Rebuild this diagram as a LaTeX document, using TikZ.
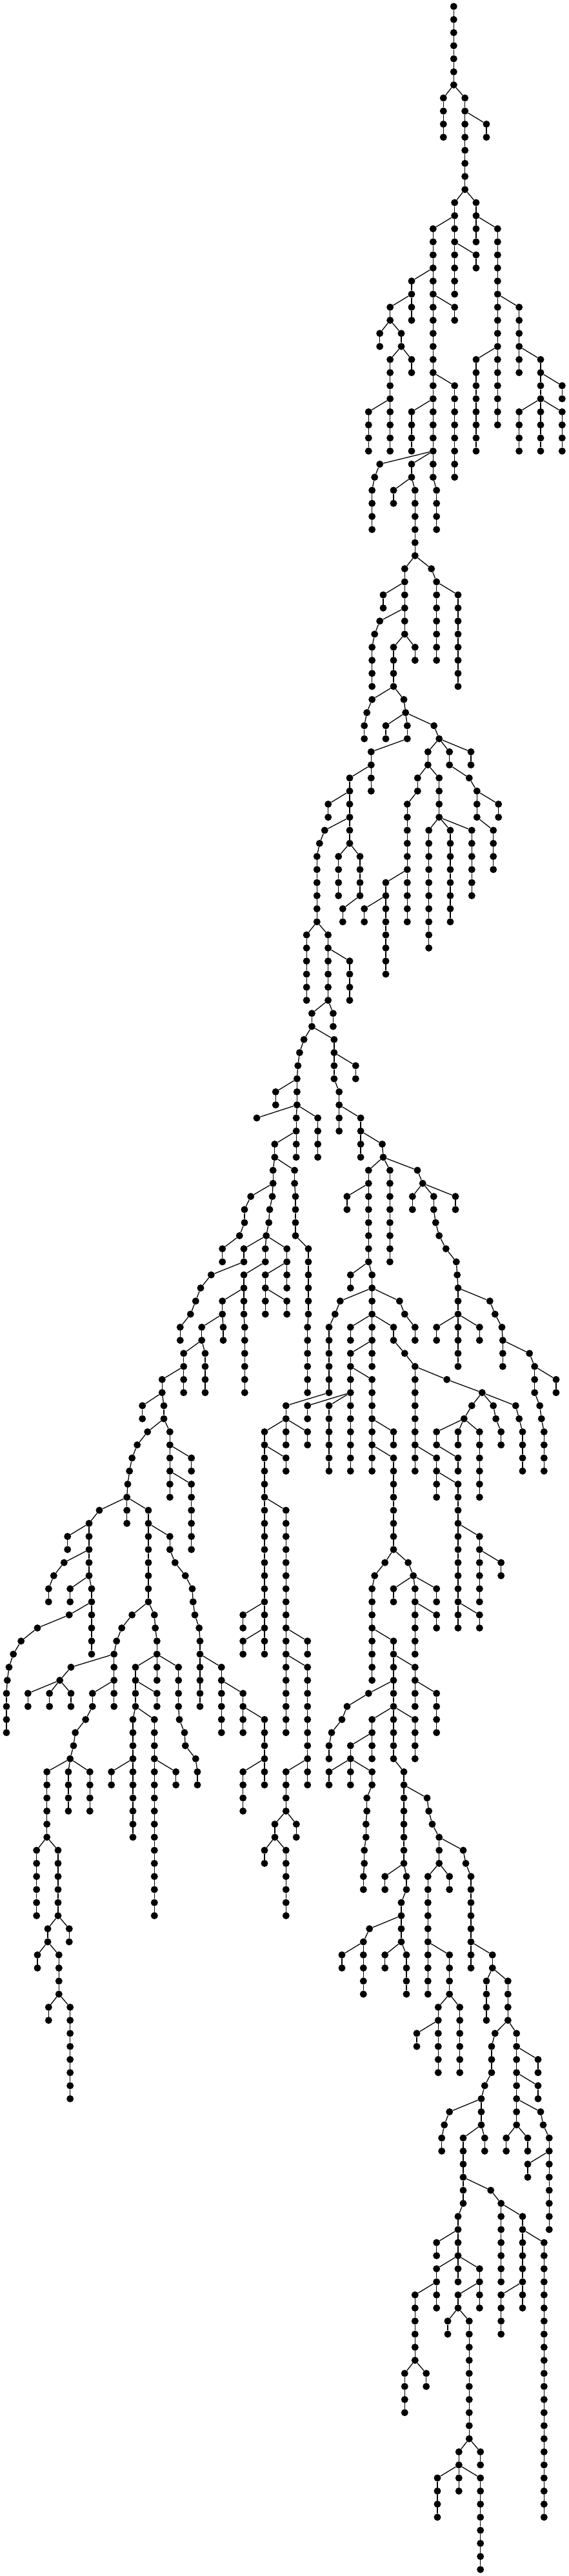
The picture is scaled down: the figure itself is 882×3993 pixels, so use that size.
\documentclass[tikz,border=0pt]{standalone}
\tikzset{dot/.style={circle,fill=black,draw=none,inner sep=0pt,minimum size=11pt},
 lnk/.style={draw=black,line width=1.3pt}}
\newcommand\ch[5]{%
 \foreach \l [remember=\l as \pv (initially #4)] in {#4,...,#5}{%
  \node[dot] (#1-\l) at (#3,{10+20.27*\l}) {};
  \ifnum\l>#4\relax \draw[lnk] (#1-\pv)--(#1-\l);\fi
 }%
 \if\relax\detokenize{#2}\relax\else \draw[lnk] (#2)--(#1-#4);\fi
}
\begin{document}
\begin{tikzpicture}[x=1pt,y=-1pt]
\useasboundingbox (0,0) rectangle (882,3993);
\ch{c1}{}{703.3}{0}{6}
\ch{c2}{c1-6}{687.3}{7}{10}
\ch{c3}{c1-6}{720.7}{7}{14}
\ch{c4}{c3-8}{754}{9}{10}
\ch{c5}{c3-14}{704.7}{15}{22}
\ch{c6}{c3-14}{738}{15}{18}
\ch{c7}{c6-16}{771.3}{17}{32}
\ch{c8}{c5-16}{671.3}{17}{36}
\ch{c9}{c5-18}{738}{19}{20}
\ch{c10}{c7-22}{804.7}{23}{28}
\ch{c11}{c7-26}{738}{27}{34}
\ch{c12}{c10-26}{838}{27}{34}
\ch{c13}{c12-28}{871.3}{29}{30}
\ch{c14}{c12-30}{804.7}{31}{34}
\ch{c15}{c12-30}{871.3}{31}{34}
\ch{c16}{c8-20}{638}{21}{24}
\ch{c17}{c8-22}{704.7}{23}{24}
\ch{c18}{c8-28}{704.7}{29}{36}
\ch{c19}{c8-30}{638}{31}{34}
\ch{c20}{c16-22}{604.7}{23}{24}
\ch{c21}{c20-24}{588.7}{25}{26}
\ch{c22}{c20-24}{622}{25}{26}
\ch{c23}{c22-26}{604.7}{27}{30}
\ch{c24}{c22-26}{638}{27}{28}
\ch{c25}{c23-30}{571.3}{31}{34}
\ch{c26}{c23-30}{604.7}{31}{34}
\ch{c27}{c8-34}{588.7}{35}{35}
\ch{c28}{c27-35}{580.7}{36}{36}
\ch{c29}{c28-36}{576.7}{37}{40}
\ch{c30}{c8-34}{638}{35}{36}
\ch{c31}{c30-36}{610}{37}{38}
\ch{c32}{c30-36}{643.3}{37}{42}
\ch{c33}{c8-36}{676.7}{37}{40}
\ch{c34}{c32-42}{627.3}{43}{48}
\ch{c35}{c32-42}{668.7}{43}{43}
\ch{c36}{c35-43}{676.7}{44}{50}
\ch{c37}{c36-44}{710}{45}{52}
\ch{c38}{c34-44}{594}{45}{46}
\ch{c39}{c34-46}{588.7}{47}{47}
\ch{c40}{c39-47}{580.7}{48}{48}
\ch{c41}{c40-48}{576.7}{49}{52}
\ch{c42}{c34-48}{610}{49}{52}
\ch{c43}{c34-48}{643.3}{49}{50}
\ch{c44}{c42-52}{576.7}{53}{53}
\ch{c45}{c44-53}{568.7}{54}{54}
\ch{c46}{c45-54}{564.7}{55}{56}
\ch{c47}{c42-52}{626}{53}{53}
\ch{c48}{c47-53}{628.7}{54}{54}
\ch{c49}{c48-54}{598}{55}{56}
\ch{c50}{c48-54}{631.3}{55}{56}
\ch{c51}{c48-54}{672.7}{55}{55}
\ch{c52}{c51-55}{680.7}{56}{56}
\ch{c53}{c50-56}{575.3}{57}{60}
\ch{c54}{c53-58}{542}{59}{64}
\ch{c55}{c54-60}{508.7}{61}{62}
\ch{c56}{c54-62}{503.3}{63}{63}
\ch{c57}{c56-63}{495.3}{64}{64}
\ch{c58}{c57-64}{491.3}{65}{70}
\ch{c59}{c54-64}{524.7}{65}{68}
\ch{c60}{c54-64}{558}{65}{68}
\ch{c61}{c60-68}{531.3}{69}{70}
\ch{c62}{c52-56}{663.3}{57}{58}
\ch{c63}{c52-56}{696.7}{57}{58}
\ch{c64}{c52-56}{730}{57}{58}
\ch{c65}{c63-58}{727.3}{59}{59}
\ch{c66}{c65-59}{739.3}{60}{62}
\ch{c67}{c66-60}{772.7}{61}{62}
\ch{c68}{c66-62}{764.7}{63}{66}
\ch{c69}{c62-58}{647.3}{59}{60}
\ch{c70}{c69-60}{631.3}{61}{70}
\ch{c71}{c62-58}{680.7}{59}{62}
\ch{c72}{c71-62}{664.7}{63}{72}
\ch{c73}{c71-62}{698}{63}{70}
\ch{c74}{c71-62}{731.3}{63}{68}
\ch{c75}{c70-66}{598}{67}{74}
\ch{c76}{c75-68}{564.7}{69}{70}
\ch{c77}{c58-70}{475.2}{71}{76}
\ch{c78}{c58-70}{508.6}{71}{76}
\ch{c79}{c78-72}{542}{73}{76}
\ch{c80}{c78-76}{483.4}{77}{78}
\ch{c81}{c78-76}{516.4}{77}{78}
\ch{c82}{c80-78}{471.1}{79}{79}
\ch{c83}{c82-79}{464.4}{80}{80}
\ch{c84}{c83-80}{461.8}{81}{81}
\ch{c85}{c84-81}{460.4}{82}{84}
\ch{c86}{c85-82}{427.3}{83}{84}
\ch{c87}{c85-84}{398}{85}{85}
\ch{c88}{c85-84}{459.2}{85}{88}
\ch{c89}{c85-84}{492.6}{85}{88}
\ch{c90}{c88-86}{425.8}{87}{88}
\ch{c91}{c90-88}{423.2}{89}{90}
\ch{c92}{c90-88}{456.6}{89}{90}
\ch{c93}{c92-90}{458}{91}{94}
\ch{c94}{c91-90}{388.7}{91}{91}
\ch{c95}{c94-91}{379}{92}{93}
\ch{c96}{c95-93}{371.3}{94}{94}
\ch{c97}{c96-94}{344.7}{95}{96}
\ch{c98}{c91-90}{422.1}{91}{91}
\ch{c99}{c98-91}{418}{92}{92}
\ch{c100}{c99-92}{416.7}{93}{93}
\ch{c101}{c100-93}{412.7}{94}{94}
\ch{c102}{c101-94}{378}{95}{96}
\ch{c103}{c101-94}{411.3}{95}{96}
\ch{c104}{c101-94}{444.7}{95}{98}
\ch{c105}{c93-94}{478}{95}{100}
\ch{c106}{c105-100}{476.7}{101}{106}
\ch{c107}{c102-96}{327.3}{97}{97}
\ch{c108}{c107-97}{311}{98}{98}
\ch{c109}{c108-98}{303.3}{99}{99}
\ch{c110}{c109-99}{295.3}{100}{100}
\ch{c111}{c110-100}{279.3}{101}{102}
\ch{c112}{c103-96}{378}{97}{100}
\ch{c113}{c112-100}{379.3}{101}{106}
\ch{c114}{c112-98}{344.7}{99}{100}
\ch{c115}{c114-100}{312.7}{101}{102}
\ch{c116}{c114-100}{346}{101}{102}
\ch{c117}{c115-102}{284.7}{103}{106}
\ch{c118}{c115-102}{318}{103}{106}
\ch{c119}{c117-104}{251.3}{105}{106}
\ch{c120}{c119-106}{220.7}{107}{108}
\ch{c121}{c119-106}{254}{107}{108}
\ch{c122}{c121-108}{228.7}{109}{109}
\ch{c123}{c121-108}{263.3}{109}{114}
\ch{c124}{c122-109}{212.7}{110}{110}
\ch{c125}{c124-110}{204.7}{111}{111}
\ch{c126}{c125-111}{200.7}{112}{112}
\ch{c127}{c126-112}{198}{113}{113}
\ch{c128}{c127-113}{196.7}{114}{116}
\ch{c129}{c128-114}{154}{115}{115}
\ch{c130}{c128-114}{230}{115}{122}
\ch{c131}{c129-115}{138}{116}{120}
\ch{c132}{c131-116}{104.7}{117}{118}
\ch{c133}{c131-118}{99.3}{119}{119}
\ch{c134}{c133-119}{83.3}{120}{120}
\ch{c135}{c134-120}{75.3}{121}{122}
\ch{c136}{c131-120}{108.7}{121}{122}
\ch{c137}{c131-120}{142}{121}{126}
\ch{c138}{c137-122}{107.3}{123}{123}
\ch{c139}{c138-123}{58}{124}{124}
\ch{c140}{c139-124}{32.7}{125}{125}
\ch{c141}{c140-125}{20.7}{126}{126}
\ch{c142}{c141-126}{14}{127}{127}
\ch{c143}{c142-127}{11.3}{128}{128}
\ch{c144}{c143-128}{10}{129}{132}
\ch{c145}{c123-110}{296.7}{111}{112}
\ch{c146}{c123-112}{296.7}{113}{118}
\ch{c147}{c130-116}{263.3}{117}{118}
\ch{c148}{c147-118}{271.3}{119}{119}
\ch{c149}{c148-119}{287.3}{120}{120}
\ch{c150}{c149-120}{298}{121}{121}
\ch{c151}{c150-121}{299.3}{122}{122}
\ch{c152}{c151-122}{302}{123}{123}
\ch{c153}{c152-123}{308.7}{124}{124}
\ch{c154}{c153-124}{310}{125}{130}
\ch{c155}{c154-126}{343.3}{127}{132}
\ch{c156}{c155-128}{376.7}{129}{132}
\ch{c157}{c156-130}{410}{131}{136}
\ch{c158}{c157-134}{376.7}{135}{138}
\ch{c159}{c130-122}{204.7}{123}{123}
\ch{c160}{c159-123}{188.7}{124}{124}
\ch{c161}{c160-124}{180.7}{125}{125}
\ch{c162}{c161-125}{176.7}{126}{130}
\ch{c163}{c130-122}{239.3}{123}{123}
\ch{c164}{c163-123}{240.7}{124}{124}
\ch{c165}{c164-124}{243.3}{125}{126}
\ch{c166}{c162-126}{110}{127}{127}
\ch{c167}{c166-127}{92.7}{128}{128}
\ch{c168}{c167-128}{43.3}{129}{130}
\ch{c169}{c167-128}{76.7}{129}{130}
\ch{c170}{c167-128}{110}{129}{130}
\ch{c171}{c162-128}{143.3}{129}{130}
\ch{c172}{c171-130}{132.7}{131}{131}
\ch{c173}{c172-131}{116.7}{132}{132}
\ch{c174}{c173-132}{114}{133}{133}
\ch{c175}{c174-133}{108.7}{134}{134}
\ch{c176}{c175-134}{72.7}{135}{140}
\ch{c177}{c175-134}{106}{135}{138}
\ch{c178}{c175-134}{139.3}{135}{138}
\ch{c179}{c176-140}{56.7}{141}{146}
\ch{c180}{c176-140}{90}{141}{146}
\ch{c181}{c180-146}{74}{147}{148}
\ch{c182}{c180-146}{107.3}{147}{148}
\ch{c183}{c181-148}{58}{149}{150}
\ch{c184}{c181-148}{91.3}{149}{152}
\ch{c185}{c184-152}{75.3}{153}{154}
\ch{c186}{c184-152}{108.7}{153}{160}
\ch{c187}{c165-126}{210}{127}{130}
\ch{c188}{c165-126}{243.3}{127}{128}
\ch{c189}{c165-126}{276.7}{127}{130}
\ch{c190}{c187-128}{243.3}{129}{130}
\ch{c191}{c187-130}{206}{131}{140}
\ch{c192}{c187-130}{239.3}{131}{146}
\ch{c193}{c191-134}{172.7}{135}{136}
\ch{c194}{c192-134}{272.7}{135}{136}
\ch{c195}{c189-130}{278}{131}{131}
\ch{c196}{c195-131}{286}{132}{132}
\ch{c197}{c196-132}{287.3}{133}{133}
\ch{c198}{c197-133}{303.3}{134}{134}
\ch{c199}{c198-134}{306}{135}{136}
\ch{c200}{c80-78}{517.9}{79}{82}
\ch{c201}{c200-80}{551.3}{81}{82}
\ch{c202}{c200-82}{525.7}{83}{86}
\ch{c203}{c202-84}{559.1}{85}{88}
\ch{c204}{c203-86}{592.5}{87}{87}
\ch{c205}{c204-87}{594}{88}{88}
\ch{c206}{c205-88}{571.3}{89}{96}
\ch{c207}{c205-88}{604.4}{89}{96}
\ch{c208}{c205-88}{647}{89}{89}
\ch{c209}{c208-89}{655.2}{90}{90}
\ch{c210}{c209-90}{639.3}{91}{92}
\ch{c211}{c209-90}{672.3}{91}{92}
\ch{c212}{c209-90}{706}{91}{92}
\ch{c213}{c206-90}{537.9}{91}{92}
\ch{c214}{c211-92}{675.3}{93}{93}
\ch{c215}{c214-93}{680.7}{94}{94}
\ch{c216}{c215-94}{691.3}{95}{95}
\ch{c217}{c216-95}{707.3}{96}{96}
\ch{c218}{c217-96}{708.7}{97}{97}
\ch{c219}{c218-97}{710}{98}{104}
\ch{c220}{c219-98}{759.3}{99}{99}
\ch{c221}{c220-99}{767.3}{100}{100}
\ch{c222}{c221-100}{778}{101}{101}
\ch{c223}{c222-101}{779.3}{102}{104}
\ch{c224}{c223-102}{820.7}{103}{103}
\ch{c225}{c224-103}{828.7}{104}{106}
\ch{c226}{c225-104}{862}{105}{106}
\ch{c227}{c225-106}{836.7}{107}{107}
\ch{c228}{c227-107}{839.3}{108}{108}
\ch{c229}{c228-108}{843.3}{109}{112}
\ch{c230}{c219-100}{676.7}{101}{102}
\ch{c231}{c219-100}{743.3}{101}{102}
\ch{c232}{c206-96}{543.3}{97}{98}
\ch{c233}{c206-96}{576.7}{97}{104}
\ch{c234}{c233-98}{527.3}{99}{99}
\ch{c235}{c234-99}{519.3}{100}{100}
\ch{c236}{c235-100}{510}{101}{106}
\ch{c237}{c233-98}{619.3}{99}{99}
\ch{c238}{c237-99}{627.3}{100}{100}
\ch{c239}{c238-100}{643.3}{101}{102}
\ch{c240}{c233-100}{543.3}{101}{102}
\ch{c241}{c233-100}{610}{101}{102}
\ch{c242}{c241-102}{627.3}{103}{103}
\ch{c243}{c242-103}{643.3}{104}{112}
\ch{c244}{c233-102}{543.3}{103}{112}
\ch{c245}{c244-104}{576.7}{105}{112}
\ch{c246}{c236-106}{443.3}{107}{108}
\ch{c247}{c244-106}{476.7}{107}{108}
\ch{c248}{c244-106}{510}{107}{112}
\ch{c249}{c245-108}{610}{109}{110}
\ch{c250}{c245-110}{610}{111}{118}
\ch{c251}{c246-108}{410}{109}{126}
\ch{c252}{c246-108}{443.3}{109}{110}
\ch{c253}{c246-108}{476.7}{109}{110}
\ch{c254}{c251-110}{443.3}{111}{112}
\ch{c255}{c251-114}{443.3}{115}{132}
\ch{c256}{c251-122}{376.7}{123}{124}
\ch{c257}{c251-124}{376.7}{125}{126}
\ch{c258}{c255-124}{476.7}{125}{126}
\ch{c259}{c255-126}{476.7}{127}{136}
\ch{c260}{c259-134}{443.3}{135}{138}
\ch{c261}{c260-138}{426}{139}{140}
\ch{c262}{c260-138}{459.3}{139}{140}
\ch{c263}{c261-140}{410}{141}{142}
\ch{c264}{c261-140}{443.3}{141}{146}
\ch{c265}{c250-118}{596.7}{119}{119}
\ch{c266}{c265-119}{580.7}{120}{120}
\ch{c267}{c266-120}{576.7}{121}{128}
\ch{c268}{c250-118}{632.7}{119}{119}
\ch{c269}{c268-119}{640.7}{120}{120}
\ch{c270}{c269-120}{610}{121}{122}
\ch{c271}{c269-120}{643.3}{121}{126}
\ch{c272}{c269-120}{676.7}{121}{122}
\ch{c273}{c271-122}{676.7}{123}{124}
\ch{c274}{c267-124}{610}{125}{134}
\ch{c275}{c274-126}{643.3}{127}{130}
\ch{c276}{c275-128}{676.7}{129}{132}
\ch{c277}{c274-128}{571.3}{129}{129}
\ch{c278}{c277-129}{538}{130}{130}
\ch{c279}{c278-130}{530}{131}{131}
\ch{c280}{c279-131}{514}{132}{132}
\ch{c281}{c280-132}{510}{133}{134}
\ch{c282}{c274-130}{576.7}{131}{134}
\ch{c283}{c274-130}{643.3}{131}{134}
\ch{c284}{c282-132}{543.3}{133}{134}
\ch{c285}{c284-134}{510}{135}{136}
\ch{c286}{c284-134}{543.3}{135}{136}
\ch{c287}{c284-134}{576.7}{135}{136}
\ch{c288}{c287-136}{568.7}{137}{138}
\ch{c289}{c288-138}{567.3}{139}{140}
\ch{c290}{c289-140}{564.7}{141}{142}
\ch{c291}{c290-142}{563.3}{143}{144}
\ch{c292}{c274-134}{626}{135}{142}
\ch{c293}{c292-136}{662}{137}{137}
\ch{c294}{c293-137}{664.7}{138}{138}
\ch{c295}{c294-138}{670}{139}{139}
\ch{c296}{c295-139}{680.7}{140}{142}
\ch{c297}{c296-140}{718}{141}{141}
\ch{c298}{c297-141}{722}{142}{142}
\ch{c299}{c298-142}{730}{143}{150}
\ch{c300}{c296-142}{663.3}{143}{152}
\ch{c301}{c296-142}{696.7}{143}{144}
\ch{c302}{c292-142}{596.7}{143}{144}
\ch{c303}{c292-142}{630}{143}{144}
\ch{c304}{c303-144}{622}{145}{148}
\ch{c305}{c304-146}{572.7}{147}{147}
\ch{c306}{c305-147}{563.3}{148}{152}
\ch{c307}{c306-148}{530}{149}{150}
\ch{c308}{c304-148}{596.7}{149}{150}
\ch{c309}{c304-148}{630}{149}{152}
\ch{c310}{c300-148}{696.7}{149}{152}
\ch{c311}{c310-152}{679.3}{153}{158}
\ch{c312}{c310-152}{712.7}{153}{158}
\ch{c313}{c311-154}{646}{155}{156}
\ch{c314}{c299-148}{763.3}{149}{150}
\ch{c315}{c314-150}{754}{151}{154}
\ch{c316}{c314-150}{787.3}{151}{154}
\ch{c317}{c316-154}{767.3}{155}{155}
\ch{c318}{c317-155}{762}{156}{158}
\ch{c319}{c318-158}{751.3}{159}{159}
\ch{c320}{c319-159}{746}{160}{162}
\ch{c321}{c316-154}{800.7}{155}{162}
\ch{c322}{c321-156}{834}{157}{158}
\ch{c323}{c321-158}{834}{159}{160}
\ch{c324}{c321-160}{838}{161}{161}
\ch{c325}{c324-161}{842}{162}{162}
\ch{c326}{c320-160}{696.7}{161}{161}
\ch{c327}{c326-161}{688.7}{162}{162}
\ch{c328}{c327-162}{684.7}{163}{164}
\ch{c329}{c320-162}{718}{163}{168}
\ch{c330}{c320-162}{751.3}{163}{164}
\ch{c331}{c321-162}{784.7}{163}{164}
\ch{c332}{c321-162}{818}{163}{164}
\ch{c333}{c325-162}{851.3}{163}{170}
\ch{c334}{c333-164}{818}{165}{166}
\ch{c335}{c329-166}{760.7}{167}{167}
\ch{c336}{c335-167}{776.7}{168}{174}
\ch{c337}{c336-168}{810}{169}{176}
\ch{c338}{c337-170}{843.3}{171}{192}
\ch{c339}{c337-174}{776.7}{175}{178}
\ch{c340}{c329-168}{710}{169}{174}
\ch{c341}{c340-170}{676.7}{171}{172}
\ch{c342}{c340-172}{676.7}{173}{176}
\ch{c343}{c340-172}{743.3}{173}{176}
\ch{c344}{c342-174}{643.3}{175}{180}
\ch{c345}{c344-180}{627.3}{181}{184}
\ch{c346}{c344-180}{660.7}{181}{182}
\ch{c347}{c343-174}{710}{175}{176}
\ch{c348}{c347-176}{694}{177}{178}
\ch{c349}{c347-176}{727.3}{177}{186}
\ch{c350}{c349-186}{711.3}{187}{188}
\ch{c351}{c349-186}{744.7}{187}{188}
\ch{c352}{c350-188}{678}{189}{192}
\ch{c353}{c350-188}{711.3}{189}{190}
\ch{c354}{c350-188}{744.7}{189}{196}
\ch{c355}{c243-104}{692.7}{105}{105}
\ch{c356}{c355-105}{747.3}{106}{106}
\ch{c357}{c356-106}{731.3}{107}{107}
\ch{c358}{c356-106}{764.7}{107}{107}
\ch{c359}{c356-106}{799.3}{107}{107}
\ch{c360}{c357-107}{719.3}{108}{108}
\ch{c361}{c360-108}{676.7}{109}{110}
\ch{c362}{c360-108}{710}{109}{110}
\ch{c363}{c360-108}{743.3}{109}{114}
\ch{c364}{c361-110}{710}{111}{112}
\ch{c365}{c358-107}{768.7}{108}{108}
\ch{c366}{c365-108}{776.7}{109}{110}
\ch{c367}{c359-107}{804.7}{108}{108}
\ch{c368}{c367-108}{810}{109}{112}
\ch{c369}{c243-110}{676.7}{111}{114}
\ch{c370}{c369-112}{710}{113}{124}
\ch{c371}{c370-116}{743.3}{117}{122}
\ch{c372}{c371-118}{776.7}{119}{120}
\ch{c373}{c370-122}{743.3}{123}{124}
\ch{c375}{c104-96}{411.3}{97}{100}
\ch{c376}{c375-98}{444.7}{99}{100}
\end{tikzpicture}
\end{document}
